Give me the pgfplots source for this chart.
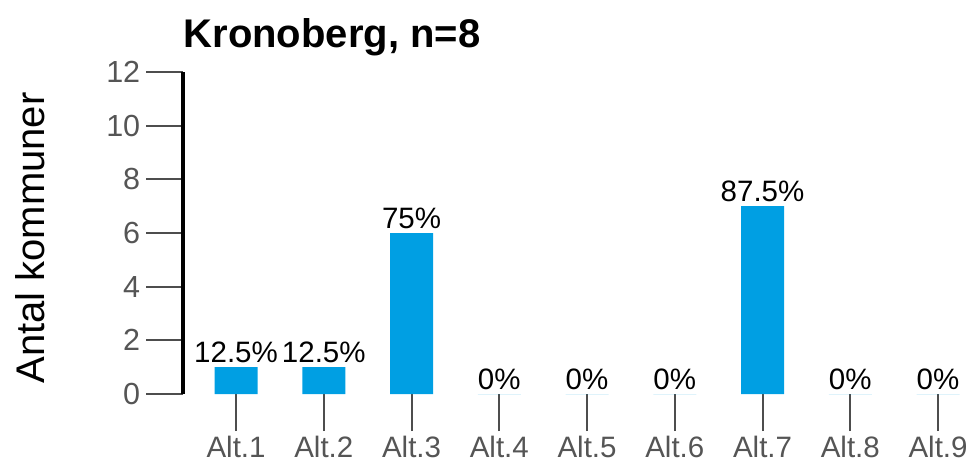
\documentclass[border=0pt]{standalone}
\usepackage{fontspec}
\setmainfont{Liberation Sans}
\usepackage{pgfplots}
\pgfplotsset{compat=1.18}
\definecolor{barblue}{RGB}{0,159,227}
\definecolor{tickgray}{RGB}{77,77,77}
\definecolor{labelgray}{RGB}{85,85,85}
\begin{document}
\begin{tikzpicture}
\begin{axis}[
  at={(0,0)}, anchor=south west,
  scale only axis, width=789.75pt, height=322pt,
  xmin=0.4, xmax=9.4, ymin=0, ymax=12,
  ytick={0,2,4,6,8,10,12},
  xtick={1,2,3,4,5,6,7,8,9},
  xticklabels={Alt.1,Alt.2,Alt.3,Alt.4,Alt.5,Alt.6,Alt.7,Alt.8,Alt.9},
  axis lines*=left,
  x axis line style={draw=none},
  y axis line style={line width=4pt, black},
  tick align=outside,
  major tick length=37pt,
  tick style={tickgray, line width=2pt},
  /pgf/number format/assume math mode=true,
  yticklabel style={font=\fontsize{30.5}{32}\selectfont, text=labelgray, inner xsep=6pt},
  xticklabel style={font=\fontsize{29.5}{32}\selectfont, text=labelgray, inner ysep=5pt},
  clip=false,
  ybar, bar width=43pt,
  nodes near coords,
  point meta=explicit symbolic,
  every node near coord/.append style={font=\fontsize{29.5}{31}\selectfont, text=black, inner sep=4pt},
]
\addplot[fill=barblue, draw=none] coordinates {
  (1,1) [12.5\%]
  (2,1) [12.5\%]
  (3,6) [75\%]
  (4,0) [0\%]
  (5,0) [0\%]
  (6,0) [0\%]
  (7,7) [87.5\%]
  (8,0) [0\%]
  (9,0) [0\%]
};
\end{axis}
\node[anchor=base west, inner sep=0pt, font=\fontsize{40}{44}\selectfont\bfseries] at (0pt,346pt) {Kronoberg, n=8};
\node[rotate=90, anchor=center, inner sep=0pt, font=\fontsize{40}{42}\selectfont] at (-153pt,156pt) {Antal kommuner};
\pgfresetboundingbox
\useasboundingbox (-183.4pt,-70pt) rectangle (789.6pt,394pt);
\end{tikzpicture}
\end{document}
